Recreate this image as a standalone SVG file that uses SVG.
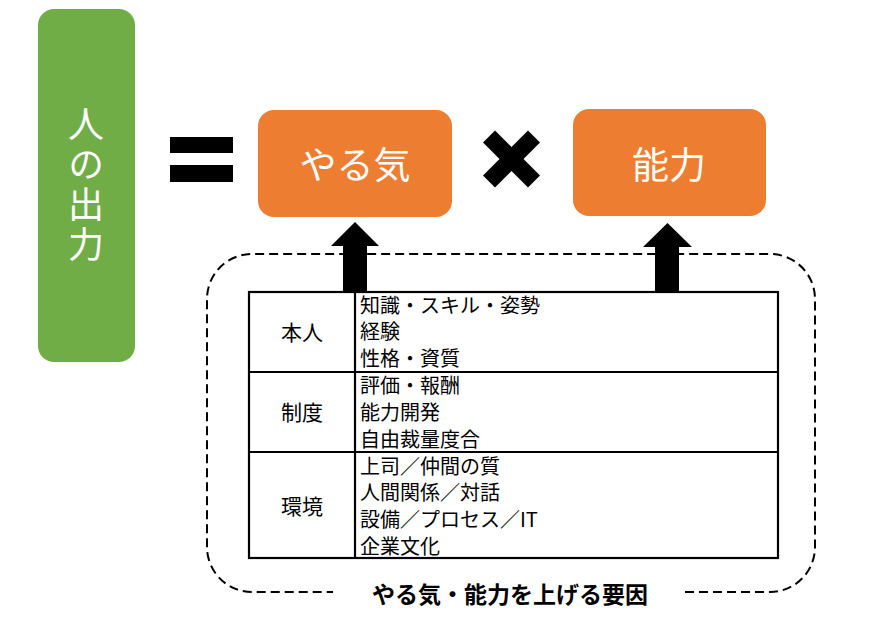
<svg xmlns="http://www.w3.org/2000/svg" width="886" height="640" viewBox="0 0 886 640">
<style>
text{font-family:"Noto Sans CJK JP","Noto Sans",sans-serif}
.big{fill:#fff;font-size:37px;text-anchor:middle}
.cell{fill:#000;font-size:20px}
.lbl{fill:#000;font-size:21px;text-anchor:middle}
.title{fill:#000;font-size:23px;font-weight:bold;text-anchor:middle}
.grid{stroke:#000;stroke-width:2.2;fill:none}
</style>
<rect width="886" height="640" fill="#fff"/>
<g id="output">
<rect x="38" y="9" width="97" height="353" rx="16" fill="#70AD47"/>
<text x="86" y="106" writing-mode="vertical-rl" letter-spacing="4" style="fill:#fff;font-size:36px">人の出力</text>
</g>
<g id="equals">
<rect x="170" y="137" width="63" height="16" fill="#000"/>
<rect x="170" y="165" width="63" height="17" fill="#000"/>
</g>
<g id="yaruki">
<rect x="258" y="110" width="194" height="107" rx="16" fill="#ED7D31"/>
<text class="big" x="355" y="179">やる気</text>
</g>
<g id="times">
<line x1="489" y1="136.5" x2="534" y2="181.5" stroke="#000" stroke-width="17"/>
<line x1="534" y1="136.5" x2="489" y2="181.5" stroke="#000" stroke-width="17"/>
</g>
<g id="nouryoku">
<rect x="573" y="109" width="193" height="107" rx="16" fill="#ED7D31"/>
<text class="big" x="669" y="179">能力</text>
</g>
<g id="factors">
<path d="M685,592 H770 A45,45 0 0 0 815,547 V299 A45,45 0 0 0 770,254 H252 A45,45 0 0 0 207,299 V547 A45,45 0 0 0 252,592 H333" fill="none" stroke="#000" stroke-width="2" stroke-dasharray="9 5"/>
<rect x="249" y="292" width="529" height="266" fill="#fff" class="grid"/>
<line x1="249" y1="372" x2="778" y2="372" class="grid"/>
<line x1="249" y1="452" x2="778" y2="452" class="grid"/>
<line x1="355" y1="292" x2="355" y2="558" class="grid"/>
<text class="lbl" x="302" y="340">本人</text>
<text class="lbl" x="302" y="420">制度</text>
<text class="lbl" x="302" y="514">環境</text>
<text class="cell" x="360" y="313">知識・スキル・姿勢</text>
<text class="cell" x="360" y="339">経験</text>
<text class="cell" x="360" y="366">性格・資質</text>
<text class="cell" x="360" y="393">評価・報酬</text>
<text class="cell" x="360" y="420">能力開発</text>
<text class="cell" x="360" y="447">自由裁量度合</text>
<text class="cell" x="360" y="474">上司／仲間の質</text>
<text class="cell" x="360" y="500">人間関係／対話</text>
<text class="cell" x="360" y="527">設備／プロセス／IT</text>
<text class="cell" x="360" y="554">企業文化</text>
<text class="title" x="510" y="603">やる気・能力を上げる要因</text>
</g>
<g id="connectors">
<path d="M343,292 V246 H331 L355,222 L379,246 H367 V292 Z" fill="#000"/>
<path d="M655,292 V247 H643 L667.5,223 L692,247 H679 V292 Z" fill="#000"/>
</g>
</svg>
